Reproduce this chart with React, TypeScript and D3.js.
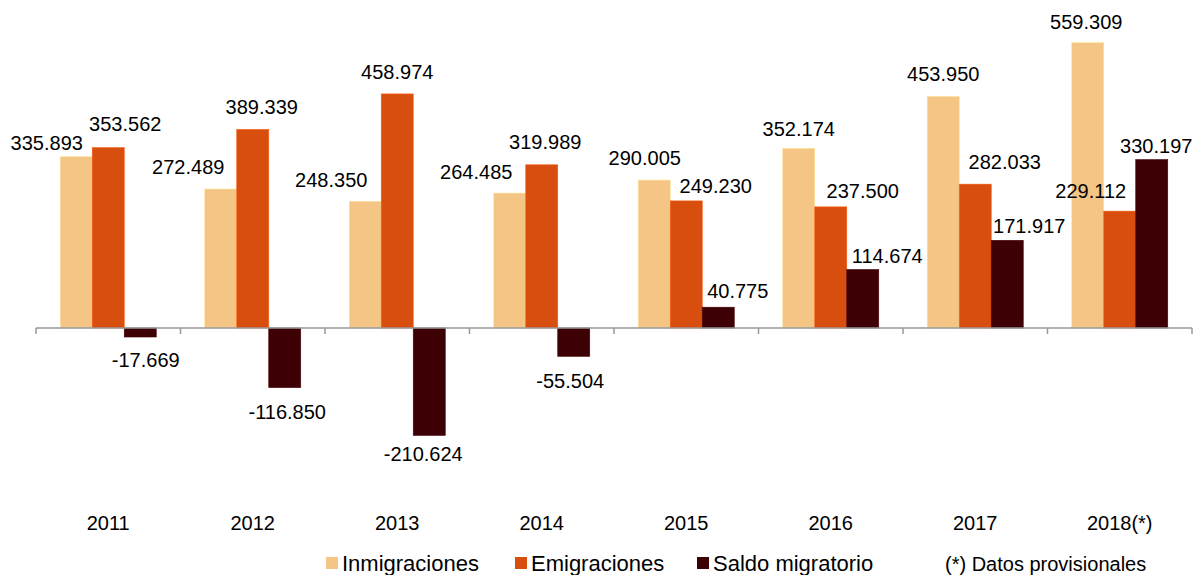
import * as d3 from "d3";
import React, { useEffect, useRef } from "react";

const years = ["2011", "2012", "2013", "2014", "2015", "2016", "2017", "2018(*)"];
const seriesNames = ["Inmigraciones", "Emigraciones", "Saldo migratorio"];
const inmigraciones = [335893, 272489, 248350, 264485, 290005, 352174, 453950, 559309];
const emigraciones = [353562, 389339, 458974, 319989, 249230, 237500, 282033, 229112];
const saldo = [-17669, -116850, -210624, -55504, 40775, 114674, 171917, 330197];
const colors = ["#F4C584", "#D84E0E", "#3C0005"];
// label nudges, like the hand-moved labels in the original
const labelShift = [
  [-29.5, -32.5, -34, -33.5, -9.5, 0, 0, -1.5],
  [17, 9, 0, 3.5, 29.5, 32, 29.5, -29],
  [5.5, 2.5, -6, -3.5, 19.5, 24.5, 22, 4.5],
];
const labelGap = [
  [14, 22, 21, 21, 22, 19, 22, 21],
  [24, 22, 22, 23, 15, 16, 22, 20],
  [23, 24, 19, 25, 16, 14, 14, 14],
];

const fmt = (v: number) => {
  const s = Math.abs(v).toString();
  const t = s.slice(0, s.length - 3) + "." + s.slice(s.length - 3);
  return (v < 0 ? "-" : "") + t;
};

function App() {
  const ref = useRef<SVGSVGElement>(null);

  useEffect(() => {
    const svg = d3.select(ref.current);
    svg.selectAll("*").remove();

    const font = "Liberation Sans, Arial, sans-serif";
    const x = d3.scaleBand().domain(years).range([36, 1192]).paddingInner(0).paddingOuter(0);
    const y = d3.scaleLinear().domain([-300000, 600000]).range([481, 22]);
    const x1 = d3.scaleBand().domain(seriesNames).range([0, x.bandwidth()]).paddingInner(0).paddingOuter(0.758);

    const series = [inmigraciones, emigraciones, saldo];

    series.forEach((vals, si) => {
      svg.append("g")
        .selectAll("rect")
        .data(vals)
        .enter()
        .append("rect")
        .attr("x", (d, i) => x(years[i])! + x1(seriesNames[si])!)
        .attr("width", x1.bandwidth())
        .attr("y", (d) => y(Math.max(0, d)))
        .attr("height", (d) => Math.abs(y(d) - y(0)))
        .attr("fill", colors[si])
        .attr("stroke", d3.color(colors[si])!.brighter(0.4).toString())
        .attr("stroke-width", 0.6);
    });

    // axis at zero
    const ax = svg.append("g");
    ax.append("line")
      .attr("x1", 36)
      .attr("x2", 1192)
      .attr("y1", y(0))
      .attr("y2", y(0))
      .attr("stroke", "#999")
      .attr("stroke-width", 1.5);
    const ticks = years.map((yr) => x(yr)!).concat([1192]);
    ax.selectAll("line.tick")
      .data(ticks)
      .enter()
      .append("line")
      .attr("class", "tick")
      .attr("x1", (d) => d)
      .attr("x2", (d) => d)
      .attr("y1", y(0))
      .attr("y2", y(0) + 6)
      .attr("stroke", "#999")
      .attr("stroke-width", 1.5);

    // data labels on top of everything
    series.forEach((vals, si) => {
      svg.append("g")
        .selectAll("text")
        .data(vals)
        .enter()
        .append("text")
        .attr("x", (d, i) => x(years[i])! + x1(seriesNames[si])! + x1.bandwidth() / 2 + labelShift[si][i])
        .attr("y", (d, i) => (d >= 0 ? y(d) - labelGap[si][i] : y(d) + labelGap[si][i]))
        .attr("dy", "0.35em")
        .attr("text-anchor", "middle")
        .attr("font-family", font)
        .attr("font-size", 20)
        .attr("fill", "#000")
        .text((d) => fmt(d));
    });

    svg.append("g")
      .selectAll("text")
      .data(years)
      .enter()
      .append("text")
      .attr("x", (d) => x(d)! + x.bandwidth() / 2)
      .attr("y", 523)
      .attr("dy", "0.35em")
      .attr("text-anchor", "middle")
      .attr("font-family", font)
      .attr("font-size", 20)
      .text((d) => d);

    // legend
    const legX = [326, 515, 697];
    const leg = svg.append("g");
    seriesNames.forEach((name, i) => {
      leg.append("rect")
        .attr("x", legX[i])
        .attr("y", 557)
        .attr("width", 12)
        .attr("height", 12)
        .attr("fill", colors[i]);
      leg.append("text")
        .attr("x", legX[i] + 16)
        .attr("y", 571)
        .attr("font-family", font)
        .attr("font-size", 22)
        .text(name);
    });
    leg.append("text")
      .attr("x", 945)
      .attr("y", 571)
      .attr("font-family", font)
      .attr("font-size", 20)
      .text("(*) Datos provisionales");
  }, []);

  return (
    <svg
      ref={ref}
      width={1196}
      height={575}
      style={{ position: "absolute", left: 0, top: 0, background: "#fff" }}
    />
  );
}

export default App;
